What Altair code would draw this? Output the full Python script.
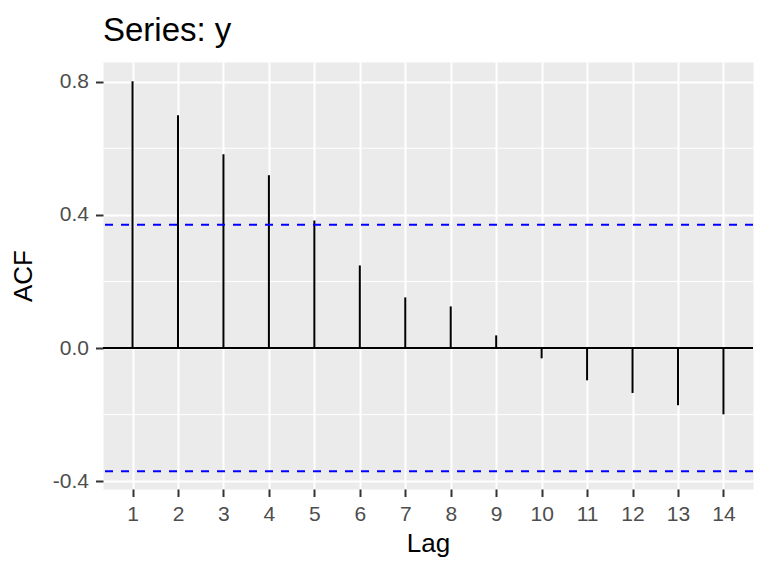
import altair as alt
import pandas as pd

lags = list(range(1, 15))
acf_values = [0.801, 0.699, 0.582, 0.519, 0.383, 0.248, 0.152, 0.125, 0.038,
              -0.031, -0.097, -0.135, -0.172, -0.199]
ci_bound = 0.37
major_y = [-0.4, 0.0, 0.4, 0.8]
minor_y = [-0.2, 0.2, 0.6]

FONT = "Liberation Sans"

df = pd.DataFrame({"lag": lags, "acf": acf_values})
minor_df = pd.DataFrame({"acf": minor_y})
zero_df = pd.DataFrame({"acf": [0.0]})
ci_df = pd.DataFrame({"acf": [ci_bound, -ci_bound]})

x_scale = alt.Scale(domain=[0.35, 14.65], nice=False, zero=False)
y_scale = alt.Scale(domain=[-0.4234, 0.859], nice=False, zero=False)

x_axis = alt.Axis(
    values=lags, title="Lag", grid=True, gridColor="white", gridWidth=2,
    ticks=True, tickSize=7.5, tickWidth=2, tickColor="#333333",
    labelFont=FONT, labelFontSize=21, labelColor="#4D4D4D", labelPadding=7,
    titleFont=FONT, titleFontSize=26, titleFontWeight="normal", titleColor="black",
    titlePadding=6, domain=False, labelFlush=False,
)
y_axis = alt.Axis(
    values=major_y, title="ACF", grid=True, gridColor="white", gridWidth=2,
    labelExpr="datum.value < 0 ? '-' + format(abs(datum.value), '.1f') : format(datum.value, '.1f')",
    ticks=True, tickSize=7.5, tickWidth=2, tickColor="#333333",
    labelFont=FONT, labelFontSize=21, labelColor="#4D4D4D", labelPadding=7,
    titleFont=FONT, titleFontSize=26, titleFontWeight="normal", titleColor="black",
    titlePadding=16, domain=False, labelFlush=False,
)

def yenc():
    return alt.Y("acf:Q", scale=y_scale, axis=y_axis)

minor = alt.Chart(minor_df).mark_rule(color="white", strokeWidth=1).encode(y=yenc())
zero = alt.Chart(zero_df).mark_rule(color="black", strokeWidth=2).encode(y=yenc())
bars = alt.Chart(df).mark_rule(color="black", strokeWidth=2).encode(
    x=alt.X("lag:Q", scale=x_scale, axis=x_axis),
    y=yenc(),
    y2=alt.datum(0),
)
ci = alt.Chart(ci_df).mark_rule(color="#0000FF", strokeWidth=2, strokeDash=[8, 8]).encode(y=yenc())

chart = alt.layer(minor, zero, bars, ci).properties(
    width=650,
    height=427,
    background="white",
    title=alt.Title("Series: y", anchor="start", frame="group", fontSize=33, font=FONT,
                    fontWeight="normal", color="black", baseline="alphabetic", offset=-12),
    autosize=alt.AutoSizeParams(type="none"),
    padding={"left": 95, "top": 54, "right": 7, "bottom": 70},
).configure_view(fill="#EBEBEB", stroke="transparent")

chart.save("out.html", embed_options={"renderer": "svg", "actions": False})
